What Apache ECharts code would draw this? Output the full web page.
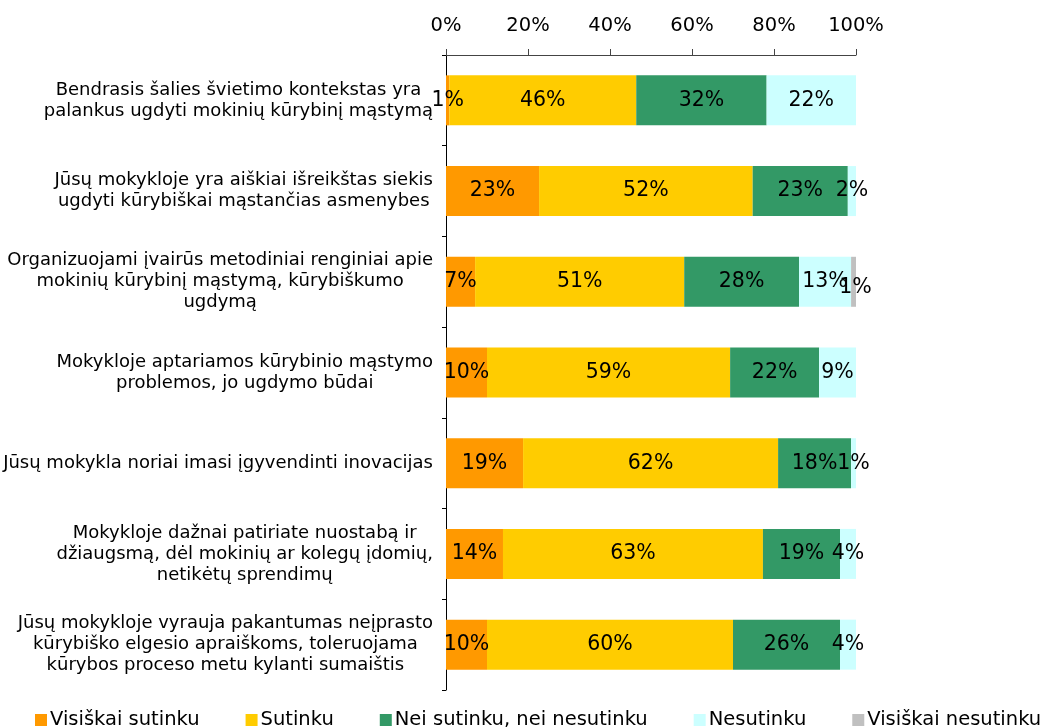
<!DOCTYPE html>
<html>
<head>
<meta charset="utf-8">
<script src="https://cdn.jsdelivr.net/npm/echarts@6/dist/echarts.min.js"></script>
<style>
  html, body { margin: 0; padding: 0; background: #fff; }
  #chart { width: 1047px; height: 727px; }
</style>
</head>
<body>
<div id="chart"></div>
<script>
const categories = [
  'Bendrasis šalies švietimo kontekstas yra\npalankus ugdyti mokinių kūrybinį mąstymą',
  'Jūsų mokykloje yra aiškiai išreikštas siekis\nugdyti kūrybiškai mąstančias asmenybes',
  'Organizuojami įvairūs metodiniai renginiai apie\nmokinių kūrybinį mąstymą, kūrybiškumo\nugdymą',
  'Mokykloje aptariamos kūrybinio mąstymo\nproblemos, jo ugdymo būdai',
  'Jūsų mokykla noriai imasi įgyvendinti inovacijas',
  'Mokykloje dažnai patiriate nuostabą ir\ndžiaugsmą, dėl mokinių ar kolegų įdomių,\nnetikėtų sprendimų',
  'Jūsų mokykloje vyrauja pakantumas neįprasto\nkūrybiško elgesio apraiškoms, toleruojama\nkūrybos proceso metu kylanti sumaištis'
]

const seriesNames = ['Visiškai sutinku', 'Sutinku', 'Nei sutinku, nei nesutinku', 'Nesutinku', 'Visiškai nesutinku']
const colors = ['#FF9900', '#FFCC00', '#339966', '#CCFFFF', '#C0C0C0']

const visiskaiSutinku = [0.8, 22.7, 7.1, 10.0, 18.8, 13.9, 10.0]
const sutinku = [45.6, 52.1, 51.0, 59.3, 62.2, 63.4, 60.0]
const neiSutinku = [31.8, 23.2, 28.0, 21.7, 17.8, 18.8, 26.1]
const nesutinku = [21.8, 2.0, 12.7, 9.0, 1.2, 3.9, 3.9]
const visiskaiNesutinku = [0, 0, 1.2, 0, 0, 0, 0]

const tickLabels = ['0%', '20%', '40%', '60%', '80%', '100%']

const font = "'DejaVu Sans', Verdana, sans-serif"
const allValues = [visiskaiSutinku, sutinku, neiSutinku, nesutinku, visiskaiNesutinku]

const chart = echarts.init(document.getElementById('chart'))

chart.setOption({
  animation: false,
  grid: {
    left: 446,
    right: 191,
    top: 55,
    bottom: 37,
  },
  xAxis: {
    type: 'value',
    position: 'top',
    min: 0,
    max: 100,
    interval: 20,
    axisLine: { show: true, lineStyle: { color: '#444', width: 1 } },
    axisTick: { show: true, length: 6, lineStyle: { color: '#444' } },
    splitLine: { show: false },
    axisLabel: {
      margin: 19,
      color: '#000',
      fontFamily: font,
      fontSize: 19.5,
      formatter: v => tickLabels[v / 20],
    },
  },
  yAxis: {
    type: 'category',
    inverse: true,
    data: categories,
    axisLine: { show: true, lineStyle: { color: '#000' } },
    axisTick: { show: true, length: 4, lineStyle: { color: '#000' } },
    axisLabel: {
      margin: 13,
      align: 'right',
      color: '#000',
      fontFamily: font,
      fontSize: 18,
      lineHeight: 21,
      formatter: v => v.split('\n').map(l => '{c|' + l + '}').join('\n'),
      rich: {
        c: { align: 'center', fontFamily: font, fontSize: 18, lineHeight: 21, color: '#000' },
      },
    },
  },
  legend: {
    top: 705,
    left: 30,
    icon: 'rect',
    itemWidth: 12,
    itemHeight: 12,
    itemGap: 46,
    textStyle: { fontFamily: font, fontSize: 19.5, color: '#000', padding: [0, 0, 0, -2] },
    data: seriesNames,
  },
  series: seriesNames.map((name, i) => ({
    name: name,
    type: 'bar',
    stack: 'total',
    barWidth: 50,
    itemStyle: { color: colors[i] },
    label: {
      show: true,
      position: 'inside',
      color: '#000',
      fontFamily: font,
      fontSize: 20.5,
      formatter: p => (p.value > 0 ? Math.round(p.value) + '%' : ''),
    },
    data: allValues[i].map((v, j) => {
      if (i === 4 && j === 2) {
        return { value: v, label: { offset: [2, 6] } }
      }
      return v
    }),
  })),
})
</script>
</body>
</html>
